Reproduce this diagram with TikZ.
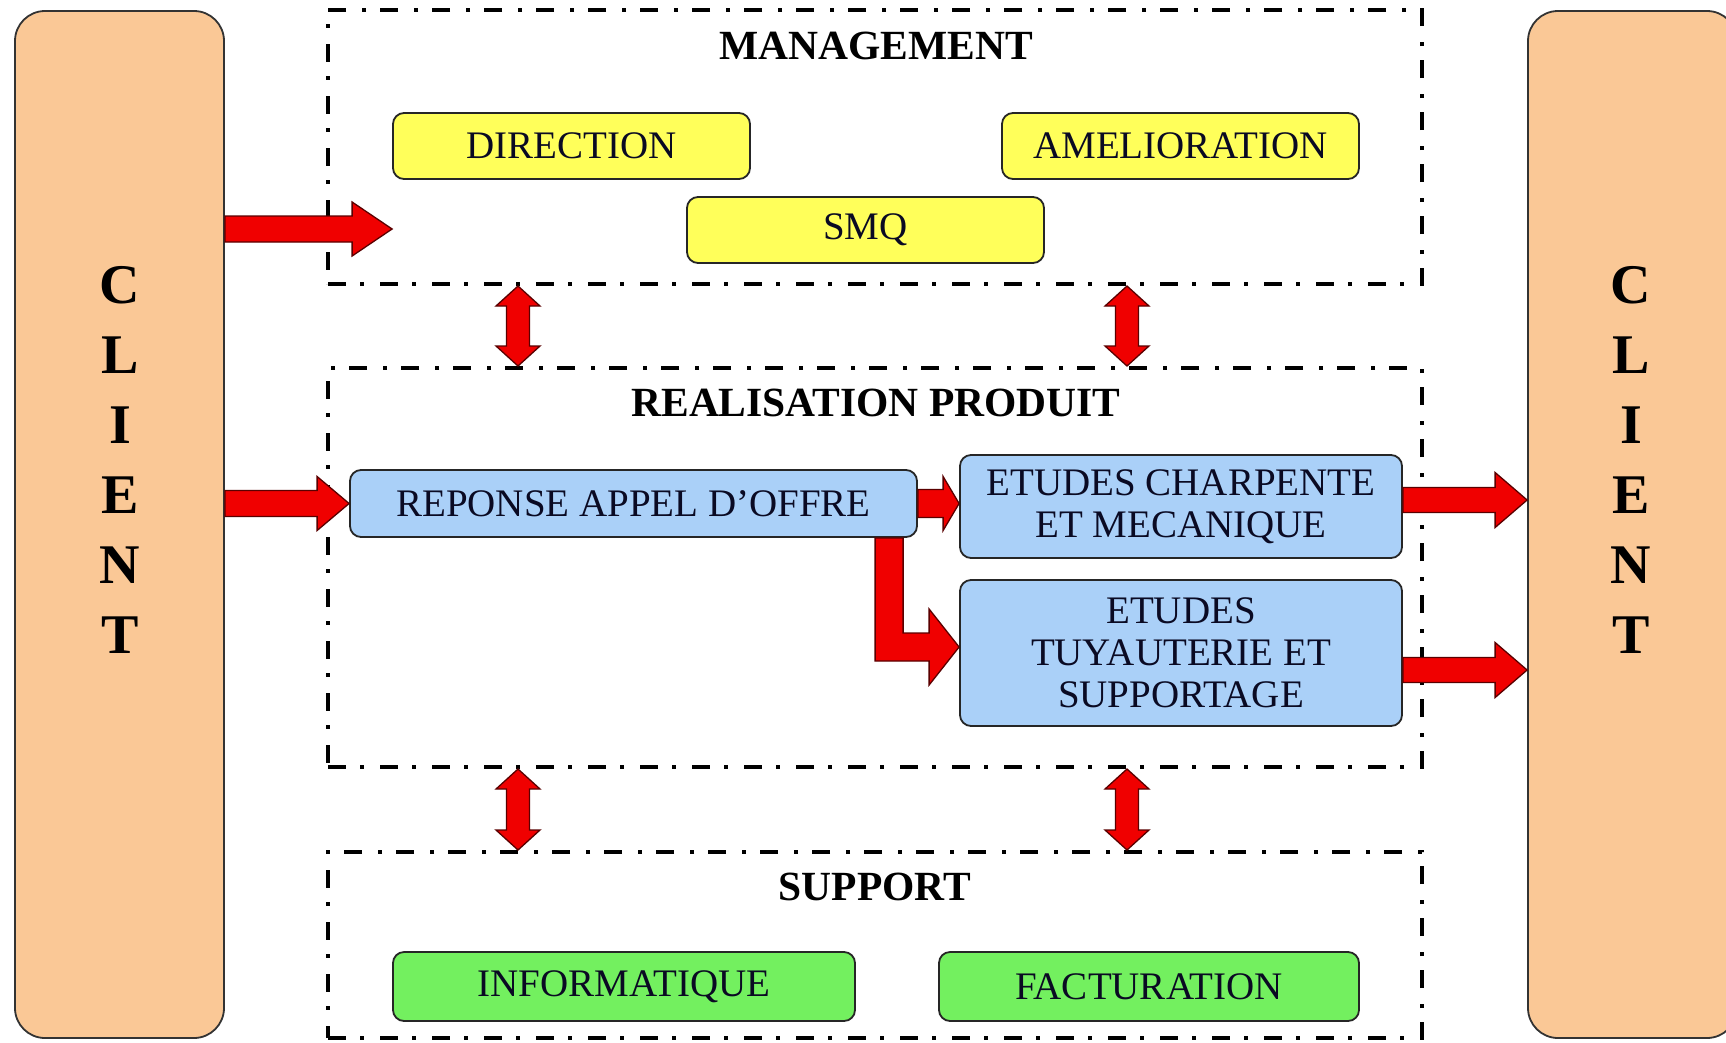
\documentclass[tikz,border=0pt]{standalone}
\usepackage{fontspec}
\setmainfont{Liberation Serif}
\usetikzlibrary{calc}
\definecolor{peach}{RGB}{250,200,150}
\definecolor{ylw}{RGB}{255,255,90}
\definecolor{lblue}{RGB}{170,208,248}
\definecolor{lgreen}{RGB}{115,240,95}
\definecolor{txt}{RGB}{10,10,35}
\definecolor{arrred}{RGB}{240,0,0}
\definecolor{arredge}{RGB}{90,0,0}
\tikzset{
 region/.style={draw=black, line width=4pt, dash pattern=on 18pt off 14pt on 4pt off 16pt, rectangle, inner sep=0pt},
 clientbox/.style={draw=black!80, line width=1.8pt, fill=peach, rounded corners=30pt, inner sep=0pt},
 letter/.style={font=\fontsize{56}{60}\selectfont\bfseries, text=black, inner sep=0pt},
 title/.style={font=\fontsize{41.5}{44}\selectfont\bfseries, inner sep=0pt},
 procbox/.style={draw=black!85, line width=1.8pt, rounded corners=11pt, inner sep=0pt, align=center, text=txt, font=\fontsize{39}{42}\selectfont},
 mgmtbox/.style={procbox, fill=ylw},
 realbox/.style={procbox, fill=lblue},
 suppbox/.style={procbox, fill=lgreen},
 blockarrow/.style={fill=arrred, draw=arredge, line width=1.3pt, line join=miter},
}
% right-pointing block arrow: #1 start, #2 tip, #3 shaft half, #4 head half, #5 head length
\newcommand\blockR[5]{%
 \filldraw[blockarrow] ($(#1)+(0,-#3)$) -- ($(#2)+(-#5,-#3)$) -- ($(#2)+(-#5,-#4)$) -- (#2)
   -- ($(#2)+(-#5,#4)$) -- ($(#2)+(-#5,#3)$) -- ($(#1)+(0,#3)$) -- cycle;}
% vertical double block arrow: #1 top tip, #2 bottom tip
\newcommand\blockUD[5]{%
 \filldraw[blockarrow] (#1) -- ($(#1)+(#4,#5)$) -- ($(#1)+(#3,#5)$) -- ($(#2)+(#3,-#5)$)
   -- ($(#2)+(#4,-#5)$) -- (#2) -- ($(#2)+(-#4,-#5)$) -- ($(#2)+(-#3,-#5)$)
   -- ($(#1)+(-#3,#5)$) -- ($(#1)+(-#4,#5)$) -- cycle;}
\begin{document}
\begin{tikzpicture}[x=1pt,y=-1pt]
\useasboundingbox (0,0) rectangle (1726,1042);
\clip (0,0) rectangle (1726,1042);
\fill[white] (0,0) rectangle (1726,1042);

% clients
\node[clientbox, minimum width=209, minimum height=1027] (clL) at (119.5,524.5) {};
\node[clientbox, minimum width=209, minimum height=1027] (clR) at (1632.5,524.5) {};
\foreach \l [count=\i] in {C,L,I,E,N,T}{
  \node[letter] (lL\i) at (120,{285+70*(\i-1)}) {\l};
  \node[letter] (lR\i) at (1631,{285+70*(\i-1)}) {\l};
}

% regions
\node[region, minimum width=1094, minimum height=274] (mgmt) at (875,147) {};
\node[region, minimum width=1094, minimum height=399] (real) at (875,567.5) {};
\node[region, minimum width=1094, minimum height=186] (supp) at (875,945) {};

% titles
\node[title] (tMg) at (876,46) {MANAGEMENT};
\node[title] (tRe) at (876,403) {REALISATION PRODUIT};
\node[title] (tSu) at (875,887) {SUPPORT};

% management boxes
\node[mgmtbox, minimum width=357, minimum height=66] (dir) at (571.5,146) {DIRECTION};
\node[mgmtbox, minimum width=357, minimum height=66] (ame) at (1180.5,146) {AMELIORATION};
\node[mgmtbox, minimum width=357, minimum height=66] (smq) at (865.5,230) {SMQ};

% realisation boxes
\node[realbox, minimum width=567, minimum height=67] (rep) at (633.5,503.5) {REPONSE APPEL D’OFFRE};
\node[realbox, minimum width=442, minimum height=103] (cha) at (1181,506.5) {ETUDES CHARPENTE\\ET MECANIQUE};
\node[realbox, minimum width=442, minimum height=146] (tuy) at (1181,653) {ETUDES\\TUYAUTERIE ET\\SUPPORTAGE};

% support boxes
\node[suppbox, minimum width=462, minimum height=69] (inf) at (624,986.5) {INFORMATIQUE};
\node[suppbox, minimum width=420, minimum height=69] (fac) at (1149,986.5) {FACTURATION};

% arrow end points
\coordinate (a1s) at (clL.east |- 0,229);
\coordinate (a1t) at (dir.west |- 0,229);
\coordinate (a2s) at (clL.east |- rep.west);
\coordinate (a3t) at (cha.west |- rep.east);
\coordinate (a4s) at (cha.east |- 0,500);
\coordinate (a4t) at (clR.west |- 0,500);
\coordinate (a5s) at (tuy.east |- 0,670);
\coordinate (a5t) at (clR.west |- 0,670);
\coordinate (eTip) at (tuy.west |- 0,647);
\coordinate (u1t) at (mgmt.south -| 518,0);
\coordinate (u1b) at (real.north -| 518,0);
\coordinate (u2t) at (mgmt.south -| 1127,0);
\coordinate (u2b) at (real.north -| 1127,0);
\coordinate (d1t) at (real.south -| 518,0);
\coordinate (d1b) at (supp.north -| 518,0);
\coordinate (d2t) at (real.south -| 1127,0);
\coordinate (d2b) at (supp.north -| 1127,0);

% arrows
\blockR{a1s}{a1t}{13}{27}{40}
\blockR{a2s}{rep.west}{13}{27}{32}
\blockR{rep.east}{a3t}{14}{27}{16}
\blockR{a4s}{a4t}{12.5}{27.5}{32}
\blockR{a5s}{a5t}{12.5}{27.5}{32}
\filldraw[blockarrow] ($(eTip |- rep.south)+(-84,0)$) -- ($(eTip |- rep.south)+(-56,0)$)
  -- ($(eTip)+(-56,-14)$) -- ($(eTip)+(-30,-14)$) -- ($(eTip)+(-30,-38)$) -- (eTip)
  -- ($(eTip)+(-30,38)$) -- ($(eTip)+(-30,14)$) -- ($(eTip)+(-84,14)$) -- cycle;
\blockUD{u1t}{u1b}{11.5}{22}{20}
\blockUD{u2t}{u2b}{11.5}{22}{20}
\blockUD{d1t}{d1b}{11.5}{22}{20}
\blockUD{d2t}{d2b}{11.5}{22}{20}
\end{tikzpicture}
\end{document}
